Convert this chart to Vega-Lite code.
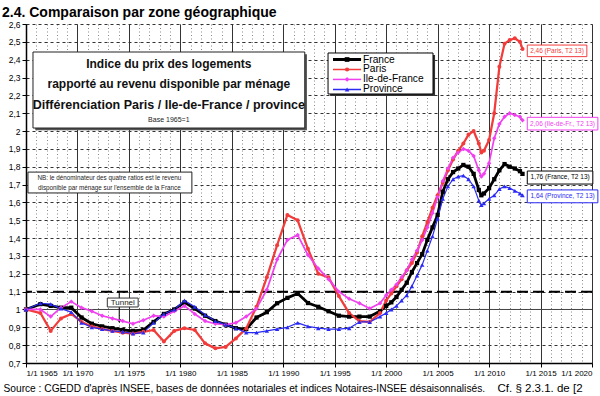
{
  "$schema": "https://vega.github.io/schema/vega-lite/v6.json",
  "width": 566,
  "height": 339,
  "autosize": {"type": "none"},
  "padding": {"left": 26, "top": 24, "right": 8, "bottom": 33},
  "background": "white",
  "config": {"view": {"stroke": null}, "font": "Liberation Sans"},
  "title": {
    "text": "2.4. Comparaison par zone géographique",
    "anchor": "start",
    "frame": "group",
    "dx": -24,
    "offset": 0,
    "font": "Liberation Sans",
    "fontSize": 14,
    "fontWeight": "bold",
    "color": "#000"
  },
  "datasets": {
    "series": [
      {"d": 1965, "France": 1.00, "Paris": 1.00, "Ile-de-France": 1.00, "Province": 1.00},
      {"d": 1966.4, "France": 1.03, "Paris": 0.98, "Ile-de-France": 1.00, "Province": 1.035},
      {"d": 1967.4, "France": 1.02, "Paris": 0.88, "Ile-de-France": 0.96, "Province": 1.03},
      {"d": 1968.4, "France": 1.01, "Paris": 0.95, "Ile-de-France": 1.01, "Province": 1.005},
      {"d": 1969.4, "France": 1.01, "Paris": 0.975, "Ile-de-France": 1.044, "Province": 0.985},
      {"d": 1970.4, "France": 0.955, "Paris": 0.93, "Ile-de-France": 1.01, "Province": 0.925},
      {"d": 1971.4, "France": 0.92, "Paris": 0.905, "Ile-de-France": 0.99, "Province": 0.90},
      {"d": 1972.4, "France": 0.905, "Paris": 0.89, "Ile-de-France": 0.965, "Province": 0.89},
      {"d": 1973.4, "France": 0.895, "Paris": 0.88, "Ile-de-France": 0.95, "Province": 0.88},
      {"d": 1974.4, "France": 0.885, "Paris": 0.87, "Ile-de-France": 0.935, "Province": 0.875},
      {"d": 1975.4, "France": 0.88, "Paris": 0.865, "Ile-de-France": 0.92, "Province": 0.865},
      {"d": 1976.4, "France": 0.885, "Paris": 0.875, "Ile-de-France": 0.94, "Province": 0.87},
      {"d": 1977.4, "France": 0.93, "Paris": 0.885, "Ile-de-France": 0.965, "Province": 0.925},
      {"d": 1978.4, "France": 0.975, "Paris": 0.82, "Ile-de-France": 0.96, "Province": 0.975},
      {"d": 1979.4, "France": 1.00, "Paris": 0.88, "Ile-de-France": 0.99, "Province": 1.00},
      {"d": 1980.4, "France": 1.04, "Paris": 0.895, "Ile-de-France": 1.02, "Province": 1.05},
      {"d": 1981.4, "France": 1.005, "Paris": 0.885, "Ile-de-France": 0.975, "Province": 1.015},
      {"d": 1982.4, "France": 0.965, "Paris": 0.81, "Ile-de-France": 0.935, "Province": 0.97},
      {"d": 1983.4, "France": 0.935, "Paris": 0.782, "Ile-de-France": 0.92, "Province": 0.935},
      {"d": 1984.4, "France": 0.915, "Paris": 0.79, "Ile-de-France": 0.915, "Province": 0.915},
      {"d": 1985.4, "France": 0.895, "Paris": 0.838, "Ile-de-France": 0.925, "Province": 0.895},
      {"d": 1986.4, "France": 0.89, "Paris": 0.894, "Ile-de-France": 0.96, "Province": 0.87},
      {"d": 1987.4, "France": 0.955, "Paris": 1.015, "Ile-de-France": 1.006, "Province": 0.87},
      {"d": 1988.4, "France": 0.985, "Paris": 1.18, "Ile-de-France": 1.11, "Province": 0.88},
      {"d": 1989.4, "France": 1.035, "Paris": 1.36, "Ile-de-France": 1.28, "Province": 0.89},
      {"d": 1990.4, "France": 1.065, "Paris": 1.53, "Ile-de-France": 1.39, "Province": 0.90},
      {"d": 1991.4, "France": 1.09, "Paris": 1.50, "Ile-de-France": 1.417, "Province": 0.925},
      {"d": 1992.4, "France": 1.036, "Paris": 1.34, "Ile-de-France": 1.305, "Province": 0.905},
      {"d": 1993.4, "France": 1.015, "Paris": 1.20, "Ile-de-France": 1.23, "Province": 0.895},
      {"d": 1994.4, "France": 0.99, "Paris": 1.18, "Ile-de-France": 1.17, "Province": 0.89},
      {"d": 1995.4, "France": 0.965, "Paris": 1.075, "Ile-de-France": 1.10, "Province": 0.89},
      {"d": 1996.4, "France": 0.96, "Paris": 0.98, "Ile-de-France": 1.06, "Province": 0.895},
      {"d": 1997.4, "France": 0.96, "Paris": 0.935, "Ile-de-France": 1.035, "Province": 0.93},
      {"d": 1998.4, "France": 0.96, "Paris": 0.93, "Ile-de-France": 1.005, "Province": 0.93},
      {"d": 1999.4, "France": 0.99, "Paris": 0.98, "Ile-de-France": 1.035, "Province": 0.96},
      {"d": 2000, "France": 1.02, "Paris": 1.05, "Ile-de-France": 1.08, "Province": 0.98},
      {"d": 2000.5, "France": 1.04, "Paris": 1.09, "Ile-de-France": 1.11, "Province": 1.00},
      {"d": 2001, "France": 1.07, "Paris": 1.13, "Ile-de-France": 1.14, "Province": 1.02},
      {"d": 2001.5, "France": 1.11, "Paris": 1.17, "Ile-de-France": 1.18, "Province": 1.05},
      {"d": 2002, "France": 1.15, "Paris": 1.22, "Ile-de-France": 1.22, "Province": 1.08},
      {"d": 2002.5, "France": 1.21, "Paris": 1.26, "Ile-de-France": 1.28, "Province": 1.13},
      {"d": 2003, "France": 1.26, "Paris": 1.32, "Ile-de-France": 1.33, "Province": 1.19},
      {"d": 2003.5, "France": 1.31, "Paris": 1.41, "Ile-de-France": 1.39, "Province": 1.25},
      {"d": 2004, "France": 1.39, "Paris": 1.49, "Ile-de-France": 1.46, "Province": 1.33},
      {"d": 2004.5, "France": 1.46, "Paris": 1.57, "Ile-de-France": 1.54, "Province": 1.41},
      {"d": 2005, "France": 1.53, "Paris": 1.64, "Ile-de-France": 1.63, "Province": 1.51},
      {"d": 2005.5, "France": 1.66, "Paris": 1.71, "Ile-de-France": 1.72, "Province": 1.62},
      {"d": 2006, "France": 1.73, "Paris": 1.78, "Ile-de-France": 1.79, "Province": 1.69},
      {"d": 2006.5, "France": 1.77, "Paris": 1.84, "Ile-de-France": 1.85, "Province": 1.73},
      {"d": 2007, "France": 1.79, "Paris": 1.89, "Ile-de-France": 1.88, "Province": 1.745},
      {"d": 2007.5, "France": 1.81, "Paris": 1.93, "Ile-de-France": 1.90, "Province": 1.75},
      {"d": 2008, "France": 1.80, "Paris": 1.98, "Ile-de-France": 1.89, "Province": 1.73},
      {"d": 2008.5, "France": 1.76, "Paris": 2.00, "Ile-de-France": 1.86, "Province": 1.69},
      {"d": 2009, "France": 1.67, "Paris": 1.93, "Ile-de-France": 1.78, "Province": 1.61},
      {"d": 2009.25, "France": 1.64, "Paris": 1.88, "Ile-de-France": 1.745, "Province": 1.585},
      {"d": 2009.5, "France": 1.65, "Paris": 1.89, "Ile-de-France": 1.76, "Province": 1.595},
      {"d": 2010, "France": 1.68, "Paris": 1.95, "Ile-de-France": 1.82, "Province": 1.62},
      {"d": 2010.5, "France": 1.73, "Paris": 2.10, "Ile-de-France": 1.96, "Province": 1.64},
      {"d": 2011, "France": 1.78, "Paris": 2.36, "Ile-de-France": 2.04, "Province": 1.675},
      {"d": 2011.5, "France": 1.815, "Paris": 2.49, "Ile-de-France": 2.08, "Province": 1.69},
      {"d": 2012, "France": 1.80, "Paris": 2.51, "Ile-de-France": 2.10, "Province": 1.68},
      {"d": 2012.5, "France": 1.79, "Paris": 2.52, "Ile-de-France": 2.09, "Province": 1.665},
      {"d": 2013, "France": 1.775, "Paris": 2.50, "Ile-de-France": 2.08, "Province": 1.65},
      {"d": 2013.25, "France": 1.76, "Paris": 2.46, "Ile-de-France": 2.06, "Province": 1.64}
    ]
  },
  "resolve": {"axis": {"x": "independent", "y": "independent"}},
  "layer": [
    {
      "data": {"values": [{}]},
      "mark": {"type": "rule", "color": "#444", "strokeWidth": 1},
      "encoding": {"y": {"datum": 1.0, "type": "quantitative", "scale": {"domain": [0.7, 2.6], "nice": false, "zero": false}, "axis": null}}
    },
    {
      "data": {"values": [{}]},
      "mark": {"type": "rule", "color": "#000", "strokeWidth": 2, "strokeDash": [11, 5]},
      "encoding": {"y": {"datum": 1.1, "type": "quantitative", "axis": null}}
    },
    {
      "data": {"values": [{}]},
      "mark": {"type": "rule", "color": "#000", "strokeWidth": 1},
      "encoding": {
        "x": {"datum": 1974.06, "type": "quantitative", "axis": null},
        "y": {"datum": 1.1, "type": "quantitative", "axis": null},
        "y2": {"datum": 0.935}
      }
    },
    {
      "data": {"values": [{}]},
      "mark": {"type": "point", "shape": "triangle-down", "filled": true, "color": "#000", "size": 18, "opacity": 1},
      "encoding": {
        "x": {"datum": 1974.06, "type": "quantitative", "axis": null},
        "y": {"datum": 0.935, "type": "quantitative", "axis": null}
      }
    },
    {
      "data": {"name": "series"},
      "transform": [{"fold": ["France", "Paris", "Ile-de-France", "Province"], "as": ["zone", "v"]}],
      "mark": {"type": "line", "strokeJoin": "round"},
      "encoding": {
        "x": {
          "field": "d", "type": "quantitative",
          "scale": {"domain": [1965, 2020], "nice": false, "zero": false},
          "axis": {
            "orient": "bottom",
            "values": [1965,1966,1967,1968,1969,1970,1971,1972,1973,1974,1975,1976,1977,1978,1979,1980,1981,1982,1983,1984,1985,1986,1987,1988,1989,1990,1991,1992,1993,1994,1995,1996,1997,1998,1999,2000,2001,2002,2003,2004,2005,2006,2007,2008,2009,2010,2011,2012,2013,2014,2015,2016,2017,2018,2019,2020],
            "grid": true, "gridColor": "#888", "gridDash": [1, 2.5], "gridWidth": 1,
            "labels": false, "ticks": false, "domain": false,
            "title": "Cf. § 2.3.1. de [2",
            "titleFont": "Liberation Sans", "titleFontSize": 11.5, "titleFontWeight": "normal", "titleColor": "#000",
            "titleAnchor": "start", "titleAlign": "left", "titleBaseline": "alphabetic",
            "titleX": 471, "titleY": 28
          }
        },
        "y": {
          "field": "v", "type": "quantitative",
          "scale": {"domain": [0.7, 2.6], "nice": false, "zero": false},
          "axis": {
            "values": [0.7,0.8,0.9,1.0,1.1,1.2,1.3,1.4,1.5,1.6,1.7,1.8,1.9,2.0,2.1,2.2,2.3,2.4,2.5,2.6],
            "labelExpr": "replace(format(datum.value, '.1~f'), '.', ',')",
            "grid": true, "gridColor": "#333", "gridDash": [3, 3], "gridWidth": 1,
            "domain": true, "domainColor": "#000", "domainWidth": 1.5,
            "ticks": true, "tickColor": "#000", "tickSize": 4,
            "labelFont": "Liberation Sans", "labelFontSize": 8.5, "labelColor": "#000", "labelPadding": 2,
            "title": null
          }
        },
        "color": {
          "field": "zone", "type": "nominal",
          "scale": {"domain": ["France", "Paris", "Ile-de-France", "Province"], "range": ["#000000", "#f23c3c", "#f040f0", "#2a2af5"]},
          "legend": null
        },
        "strokeWidth": {
          "field": "zone", "type": "nominal",
          "scale": {"domain": ["France", "Paris", "Ile-de-France", "Province"], "range": [2.8, 1.2, 1.2, 1.2]},
          "legend": null
        },
        "order": {"field": "d", "type": "quantitative"}
      }
    },
    {
      "data": {"name": "series"},
      "transform": [{"fold": ["France"], "as": ["zone", "v"]}],
      "mark": {"type": "point", "shape": "square", "filled": true, "size": 18, "opacity": 1, "strokeWidth": 0, "color": "#000000"},
      "encoding": {
        "x": {
          "field": "d", "type": "quantitative",
          "axis": {
            "orient": "bottom",
            "values": [1965,1970,1975,1980,1985,1990,1995,2000,2005,2010,2015,2020],
            "labelExpr": "'1/1 ' + datum.value",
            "grid": true, "gridColor": "#333", "gridWidth": 1,
            "domain": true, "domainColor": "#000", "domainWidth": 1.5,
            "ticks": true, "tickColor": "#000", "tickSize": 4,
            "labelFont": "Liberation Sans", "labelFontSize": 8, "labelColor": "#000", "labelPadding": 2,
            "title": "Source : CGEDD d'après INSEE, bases de données notariales et indices Notaires-INSEE désaisonnalisés.",
            "titleFont": "Liberation Sans", "titleFontSize": 10.2, "titleFontWeight": "normal", "titleColor": "#000",
            "titleAnchor": "start", "titleAlign": "left", "titleBaseline": "alphabetic",
            "titleX": -23, "titleY": 28
          }
        },
        "y": {"field": "v", "type": "quantitative", "axis": null}
      }
    },
    {
      "data": {"name": "series"},
      "transform": [{"fold": ["Paris"], "as": ["zone", "v"]}],
      "mark": {"type": "point", "shape": "circle", "filled": true, "size": 16, "opacity": 1, "strokeWidth": 0, "color": "#f23c3c"},
      "encoding": {
        "x": {"field": "d", "type": "quantitative", "axis": null},
        "y": {"field": "v", "type": "quantitative", "axis": null}
      }
    },
    {
      "data": {"name": "series"},
      "transform": [{"fold": ["Ile-de-France"], "as": ["zone", "v"]}],
      "mark": {"type": "point", "shape": "diamond", "filled": true, "size": 20, "opacity": 1, "strokeWidth": 0, "color": "#f040f0"},
      "encoding": {
        "x": {"field": "d", "type": "quantitative", "axis": null},
        "y": {"field": "v", "type": "quantitative", "axis": null}
      }
    },
    {
      "data": {"name": "series"},
      "transform": [{"fold": ["Province"], "as": ["zone", "v"]}],
      "mark": {"type": "point", "shape": "triangle-up", "filled": true, "size": 20, "opacity": 1, "strokeWidth": 0, "color": "#2a2af5"},
      "encoding": {
        "x": {"field": "d", "type": "quantitative", "axis": null},
        "y": {"field": "v", "type": "quantitative", "axis": null}
      }
    },
    {
      "data": {"values": [{}]},
      "mark": {"type": "rect", "fill": "#333", "stroke": null},
      "encoding": {
        "x": {"datum": 1994.55, "type": "quantitative", "axis": null},
        "x2": {"datum": 2004.75},
        "y": {"datum": 2.426, "type": "quantitative", "axis": null},
        "y2": {"datum": 2.196}
      }
    },
    {
      "data": {"values": [{}]},
      "mark": {"type": "rect", "fill": "#fff", "stroke": "#000", "strokeWidth": 1},
      "encoding": {
        "x": {"datum": 1994.35, "type": "quantitative", "axis": null},
        "x2": {"datum": 2004.55},
        "y": {"datum": 2.4375, "type": "quantitative", "axis": null},
        "y2": {"datum": 2.2077}
      }
    },
    {
      "data": {"values": [{}]},
      "mark": {"type": "rule", "color": "#000", "strokeWidth": 3},
      "encoding": {"x": {"datum": 1994.83, "type": "quantitative", "axis": null}, "x2": {"datum": 1997.56}, "y": {"datum": 2.401, "type": "quantitative", "axis": null}}
    },
    {
      "data": {"values": [{}]},
      "mark": {"type": "rule", "color": "#f23c3c", "strokeWidth": 1.5},
      "encoding": {"x": {"datum": 1994.83, "type": "quantitative", "axis": null}, "x2": {"datum": 1997.56}, "y": {"datum": 2.345, "type": "quantitative", "axis": null}}
    },
    {
      "data": {"values": [{}]},
      "mark": {"type": "rule", "color": "#f040f0", "strokeWidth": 1.5},
      "encoding": {"x": {"datum": 1994.83, "type": "quantitative", "axis": null}, "x2": {"datum": 1997.56}, "y": {"datum": 2.2894, "type": "quantitative", "axis": null}}
    },
    {
      "data": {"values": [{}]},
      "mark": {"type": "rule", "color": "#2a2af5", "strokeWidth": 1.5},
      "encoding": {"x": {"datum": 1994.83, "type": "quantitative", "axis": null}, "x2": {"datum": 1997.56}, "y": {"datum": 2.2329, "type": "quantitative", "axis": null}}
    },
    {
      "data": {"values": [{}]},
      "mark": {"type": "point", "shape": "square", "filled": true, "size": 22, "opacity": 1, "strokeWidth": 0, "color": "#000000"},
      "encoding": {"x": {"datum": 1996.2, "type": "quantitative", "axis": null}, "y": {"datum": 2.401, "type": "quantitative", "axis": null}}
    },
    {
      "data": {"values": [{}]},
      "mark": {"type": "point", "shape": "circle", "filled": true, "size": 18, "opacity": 1, "strokeWidth": 0, "color": "#f23c3c"},
      "encoding": {"x": {"datum": 1996.2, "type": "quantitative", "axis": null}, "y": {"datum": 2.345, "type": "quantitative", "axis": null}}
    },
    {
      "data": {"values": [{}]},
      "mark": {"type": "point", "shape": "diamond", "filled": true, "size": 22, "opacity": 1, "strokeWidth": 0, "color": "#f040f0"},
      "encoding": {"x": {"datum": 1996.2, "type": "quantitative", "axis": null}, "y": {"datum": 2.2894, "type": "quantitative", "axis": null}}
    },
    {
      "data": {"values": [{}]},
      "mark": {"type": "point", "shape": "triangle-up", "filled": true, "size": 22, "opacity": 1, "strokeWidth": 0, "color": "#2a2af5"},
      "encoding": {"x": {"datum": 1996.2, "type": "quantitative", "axis": null}, "y": {"datum": 2.2329, "type": "quantitative", "axis": null}}
    },
    {
      "data": {"values": [{}]},
      "mark": {"type": "text", "text": "France", "font": "Liberation Sans", "fontSize": 10.2, "color": "#000", "align": "left", "baseline": "middle"},
      "encoding": {"x": {"datum": 1997.75, "type": "quantitative", "axis": null}, "y": {"datum": 2.401, "type": "quantitative", "axis": null}}
    },
    {
      "data": {"values": [{}]},
      "mark": {"type": "text", "text": "Paris", "font": "Liberation Sans", "fontSize": 10.2, "color": "#000", "align": "left", "baseline": "middle"},
      "encoding": {"x": {"datum": 1997.75, "type": "quantitative", "axis": null}, "y": {"datum": 2.345, "type": "quantitative", "axis": null}}
    },
    {
      "data": {"values": [{}]},
      "mark": {"type": "text", "text": "Ile-de-France", "font": "Liberation Sans", "fontSize": 10.2, "color": "#000", "align": "left", "baseline": "middle"},
      "encoding": {"x": {"datum": 1997.75, "type": "quantitative", "axis": null}, "y": {"datum": 2.2894, "type": "quantitative", "axis": null}}
    },
    {
      "data": {"values": [{}]},
      "mark": {"type": "text", "text": "Province", "font": "Liberation Sans", "fontSize": 10.2, "color": "#000", "align": "left", "baseline": "middle"},
      "encoding": {"x": {"datum": 1997.75, "type": "quantitative", "axis": null}, "y": {"datum": 2.2329, "type": "quantitative", "axis": null}}
    },
    {
      "data": {"values": [{}]},
      "mark": {"type": "rect", "fill": "#555", "stroke": null},
      "encoding": {
        "x": {"datum": 1965.9, "type": "quantitative", "axis": null},
        "x2": {"datum": 1992.3},
        "y": {"datum": 2.43, "type": "quantitative", "axis": null},
        "y2": {"datum": 2.005}
      }
    },
    {
      "data": {"values": [{}]},
      "mark": {"type": "rect", "fill": "#fff", "stroke": "#222", "strokeWidth": 1},
      "encoding": {
        "x": {"datum": 1965.68, "type": "quantitative", "axis": null},
        "x2": {"datum": 1992.09},
        "y": {"datum": 2.443, "type": "quantitative", "axis": null},
        "y2": {"datum": 2.017}
      }
    },
    {
      "data": {"values": [{}]},
      "mark": {"type": "text", "text": "Indice du prix des logements", "font": "Liberation Sans", "fontSize": 12, "fontWeight": "bold", "color": "#111", "align": "center", "baseline": "middle"},
      "encoding": {"x": {"datum": 1978.88, "type": "quantitative", "axis": null}, "y": {"datum": 2.376, "type": "quantitative", "axis": null}}
    },
    {
      "data": {"values": [{}]},
      "mark": {"type": "text", "text": "rapporté au revenu disponible par ménage", "font": "Liberation Sans", "fontSize": 12, "fontWeight": "bold", "color": "#111", "align": "center", "baseline": "middle"},
      "encoding": {"x": {"datum": 1978.88, "type": "quantitative", "axis": null}, "y": {"datum": 2.266, "type": "quantitative", "axis": null}}
    },
    {
      "data": {"values": [{}]},
      "mark": {"type": "text", "text": "Différenciation Paris / Ile-de-France / province", "font": "Liberation Sans", "fontSize": 12.5, "fontWeight": "bold", "color": "#111", "align": "center", "baseline": "middle"},
      "encoding": {"x": {"datum": 1978.88, "type": "quantitative", "axis": null}, "y": {"datum": 2.146, "type": "quantitative", "axis": null}}
    },
    {
      "data": {"values": [{}]},
      "mark": {"type": "text", "text": "Base 1965=1", "font": "Liberation Sans", "fontSize": 7, "color": "#222", "align": "center", "baseline": "middle"},
      "encoding": {"x": {"datum": 1978.88, "type": "quantitative", "axis": null}, "y": {"datum": 2.062, "type": "quantitative", "axis": null}}
    },
    {
      "data": {"values": [{}]},
      "mark": {"type": "rect", "fill": "#fff", "stroke": "#222", "strokeWidth": 1},
      "encoding": {
        "x": {"datum": 1965.19, "type": "quantitative", "axis": null},
        "x2": {"datum": 1981.12},
        "y": {"datum": 1.77, "type": "quantitative", "axis": null},
        "y2": {"datum": 1.653}
      }
    },
    {
      "data": {"values": [{}]},
      "mark": {"type": "text", "text": "NB: le dénominateur des quatre ratios est le revenu", "font": "Liberation Sans", "fontSize": 6.3, "color": "#222", "align": "center", "baseline": "middle"},
      "encoding": {"x": {"datum": 1973.1, "type": "quantitative", "axis": null}, "y": {"datum": 1.735, "type": "quantitative", "axis": null}}
    },
    {
      "data": {"values": [{}]},
      "mark": {"type": "text", "text": "disponible par ménage sur l'ensemble de la France", "font": "Liberation Sans", "fontSize": 6.3, "color": "#222", "align": "center", "baseline": "middle"},
      "encoding": {"x": {"datum": 1973.1, "type": "quantitative", "axis": null}, "y": {"datum": 1.683, "type": "quantitative", "axis": null}}
    },
    {
      "data": {"values": [{}]},
      "mark": {"type": "rect", "fill": "#fff", "stroke": "#333", "strokeWidth": 1},
      "encoding": {
        "x": {"datum": 1972.9, "type": "quantitative", "axis": null},
        "x2": {"datum": 1975.9},
        "y": {"datum": 1.064, "type": "quantitative", "axis": null},
        "y2": {"datum": 1.014}
      }
    },
    {
      "data": {"values": [{}]},
      "mark": {"type": "text", "text": "Tunnel", "font": "Liberation Sans", "fontSize": 8, "color": "#222", "align": "center", "baseline": "middle"},
      "encoding": {"x": {"datum": 1974.4, "type": "quantitative", "axis": null}, "y": {"datum": 1.039, "type": "quantitative", "axis": null}}
    },
    {
      "data": {"values": [{}]},
      "mark": {"type": "rect", "fill": "#fff", "stroke": "#f23c3c", "strokeWidth": 1},
      "encoding": {
        "x": {"datum": 2013.71, "type": "quantitative", "axis": null},
        "x2": {"datum": 2019.5},
        "y": {"datum": 2.482, "type": "quantitative", "axis": null},
        "y2": {"datum": 2.417}
      }
    },
    {
      "data": {"values": [{}]},
      "mark": {"type": "text", "text": "2,46 (Paris, T2 13)", "font": "Liberation Sans", "fontSize": 6.5, "color": "#f23c3c", "align": "center", "baseline": "middle"},
      "encoding": {"x": {"datum": 2016.6, "type": "quantitative", "axis": null}, "y": {"datum": 2.45, "type": "quantitative", "axis": null}}
    },
    {
      "data": {"values": [{}]},
      "mark": {"type": "rect", "fill": "#fff", "stroke": "#f040f0", "strokeWidth": 1},
      "encoding": {
        "x": {"datum": 2013.71, "type": "quantitative", "axis": null},
        "x2": {"datum": 2020.57},
        "y": {"datum": 2.077, "type": "quantitative", "axis": null},
        "y2": {"datum": 2.006}
      }
    },
    {
      "data": {"values": [{}]},
      "mark": {"type": "text", "text": "2,06 (Ile-de-Fr., T2 13)", "font": "Liberation Sans", "fontSize": 6.5, "color": "#f040f0", "align": "center", "baseline": "middle"},
      "encoding": {"x": {"datum": 2017.14, "type": "quantitative", "axis": null}, "y": {"datum": 2.042, "type": "quantitative", "axis": null}}
    },
    {
      "data": {"values": [{}]},
      "mark": {"type": "rect", "fill": "#fff", "stroke": "#000", "strokeWidth": 1},
      "encoding": {
        "x": {"datum": 2013.71, "type": "quantitative", "axis": null},
        "x2": {"datum": 2020.08},
        "y": {"datum": 1.776, "type": "quantitative", "axis": null},
        "y2": {"datum": 1.703}
      }
    },
    {
      "data": {"values": [{}]},
      "mark": {"type": "text", "text": "1,76 (France, T2 13)", "font": "Liberation Sans", "fontSize": 6.5, "color": "#000", "align": "center", "baseline": "middle"},
      "encoding": {"x": {"datum": 2016.9, "type": "quantitative", "axis": null}, "y": {"datum": 1.74, "type": "quantitative", "axis": null}}
    },
    {
      "data": {"values": [{}]},
      "mark": {"type": "rect", "fill": "#fff", "stroke": "#2a2af5", "strokeWidth": 1},
      "encoding": {
        "x": {"datum": 2013.71, "type": "quantitative", "axis": null},
        "x2": {"datum": 2020.57},
        "y": {"datum": 1.67, "type": "quantitative", "axis": null},
        "y2": {"datum": 1.598}
      }
    },
    {
      "data": {"values": [{}]},
      "mark": {"type": "text", "text": "1,64 (Province, T2 13)", "font": "Liberation Sans", "fontSize": 6.5, "color": "#2a2af5", "align": "center", "baseline": "middle"},
      "encoding": {"x": {"datum": 2017.14, "type": "quantitative", "axis": null}, "y": {"datum": 1.634, "type": "quantitative", "axis": null}}
    }
  ]
}
